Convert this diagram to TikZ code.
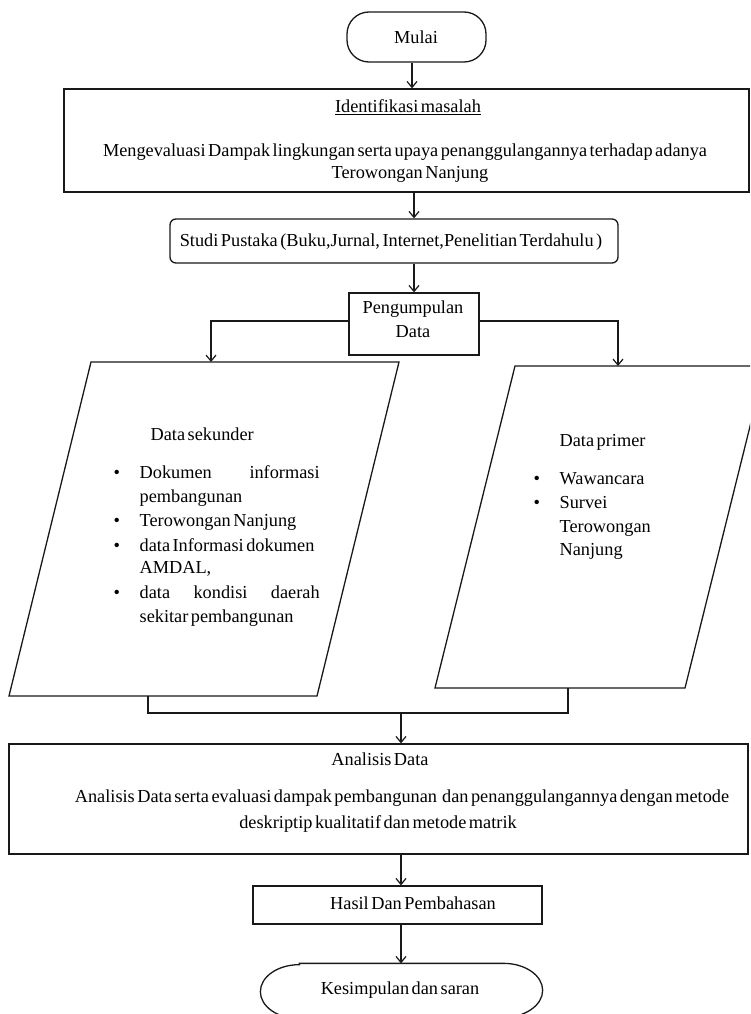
\documentclass[tikz,border=0pt]{standalone}
\usepackage{fontspec}
\setmainfont[WordSpace={0.55}]{Liberation Serif}
\usetikzlibrary{arrows.meta}
\begin{document}
\begin{tikzpicture}[x=1pt,y=-1pt,
  line width=1.3pt,
  every node/.style={font=\fontsize{18.3}{24}\selectfont, inner sep=0pt},
  boxline/.style={draw=black!90, line width=1.3pt},
  arr/.style={draw=black!90, line width=1.3pt, -{Straight Barb[length=6pt,width=10pt,line width=1.2pt]}},
  ln/.style={anchor=base west},
  ctr/.style={anchor=base},
]
\useasboundingbox (0,0) rectangle (750,1014);
\clip (0,0) rectangle (750,1014);

% Mulai
\node[boxline, rounded corners=22pt, minimum width=139pt, minimum height=50pt] (mulai) at (416.5,37) {};
\node[ctr] (mulaiT) at (416,44) {Mulai};

% Identifikasi masalah
\node[boxline, minimum width=685pt, minimum height=103pt] (ident) at (406.5,140.5) {};
\node[ctr] (identT) at (408,113) {\underline{Identifikasi masalah}};
\node[ctr] (identA) at (405,157) {Mengevaluasi Dampak lingkungan serta upaya penanggulangannya terhadap adanya};
\node[ctr] (identB) at (410,178) {Terowongan Nanjung};

% Studi Pustaka
\node[boxline, rounded corners=6pt, minimum width=448pt, minimum height=44pt] (studi) at (394,241) {};
\node[ctr] (studiT) at (391,246) {Studi Pustaka (Buku,Jurnal, Internet,Penelitian Terdahulu )};

% Pengumpulan Data
\node[boxline, minimum width=130pt, minimum height=62pt] (kumpul) at (414,324) {};
\node[ctr] (kumpulA) at (413,313) {Pengumpulan};
\node[ctr] (kumpulB) at (413,337) {Data};

% helper coordinates
\coordinate (c1) at (412,0);
\coordinate (c2) at (414,0);
\coordinate (sekTop) at (211,362);
\coordinate (sekBot) at (148,696);
\coordinate (priTop) at (618,366);
\coordinate (priBot) at (568,688);
\coordinate (merge) at (401,713);

% Data sekunder parallelogram
\draw[boxline] (91,362) -- (399,362) -- (317,696) -- (9,696) -- cycle;
\node[ln] (sekT) at (150,440) {Data sekunder};
\node[ln] (sb1) at (113,478) {\textbullet};
\node[ln] (s1) at (139,478) {\makebox[180pt][s]{Dokumen informasi}};
\node[ln] (s2) at (139,502) {pembangunan};
\node[ln] (sb2) at (113,526) {\textbullet};
\node[ln] (s3) at (139,526) {Terowongan Nanjung};
\node[ln] (sb3) at (113,551) {\textbullet};
\node[ln] (s4) at (139,551) {data Informasi dokumen};
\node[ln] (s5) at (139,573) {AMDAL,};
\node[ln] (sb4) at (113,598) {\textbullet};
\node[ln] (s6) at (139,598) {\makebox[180pt][s]{data kondisi daerah}};
\node[ln] (s7) at (139,622) {sekitar pembangunan};

% Data primer parallelogram
\draw[boxline] (515,366) -- (765,366) -- (685,688) -- (435,688) -- cycle;
\node[ln] (priT) at (559,446) {Data primer};
\node[ln] (pb1) at (533,484) {\textbullet};
\node[ln] (p1) at (559,484) {Wawancara};
\node[ln] (pb2) at (533,508) {\textbullet};
\node[ln] (p2) at (559,508) {Survei};
\node[ln] (p3) at (559,532) {Terowongan};
\node[ln] (p4) at (559,555) {Nanjung};

% Analisis Data
\node[boxline, minimum width=739pt, minimum height=110pt] (anal) at (378.5,799) {};
\node[ctr] (analT) at (380,765) {Analisis Data};
\node[ctr] (analA) at (402,802) {Analisis Data serta evaluasi dampak pembangunan\ \ dan penanggulangannya dengan metode};
\node[ctr] (analB) at (378,828) {deskriptip kualitatif dan metode matrik};

% Hasil dan Pembahasan
\node[boxline, minimum width=289pt, minimum height=38pt] (hasil) at (397.5,905) {};
\node[ctr] (hasilT) at (413,909) {Hasil Dan Pembahasan};

% Kesimpulan dan saran
\node[minimum width=281pt, minimum height=54pt] (kes) at (401.5,991) {};
\draw[boxline] ([xshift=39pt]kes.north west) -- ([xshift=-39pt]kes.north east)
  arc[start angle=-90,end angle=90,x radius=39,y radius=27]
  -- ([xshift=39pt]kes.south west)
  arc[start angle=90,end angle=270,x radius=39,y radius=27] -- cycle;
\node[ctr] (kesT) at (400,994) {Kesimpulan dan saran};

% connectors
\draw[arr] (mulai.south -| c1) -- (ident.north -| c1);
\draw[arr] (ident.south -| c2) -- (studi.north -| c2);
\draw[arr] (studi.south -| c2) -- (kumpul.north -| c2);
\draw[arr] ([yshift=3pt]kumpul.west) -| (sekTop);
\draw[arr] ([yshift=3pt]kumpul.east) -| (priTop);
\draw[boxline] (sekBot) |- (merge) -| (priBot);
\draw[arr] (merge) -- (anal.north -| merge);
\draw[arr] (anal.south -| merge) -- (hasil.north -| merge);
\draw[arr] (hasil.south -| merge) -- (kes.north -| merge);
\end{tikzpicture}
\end{document}
